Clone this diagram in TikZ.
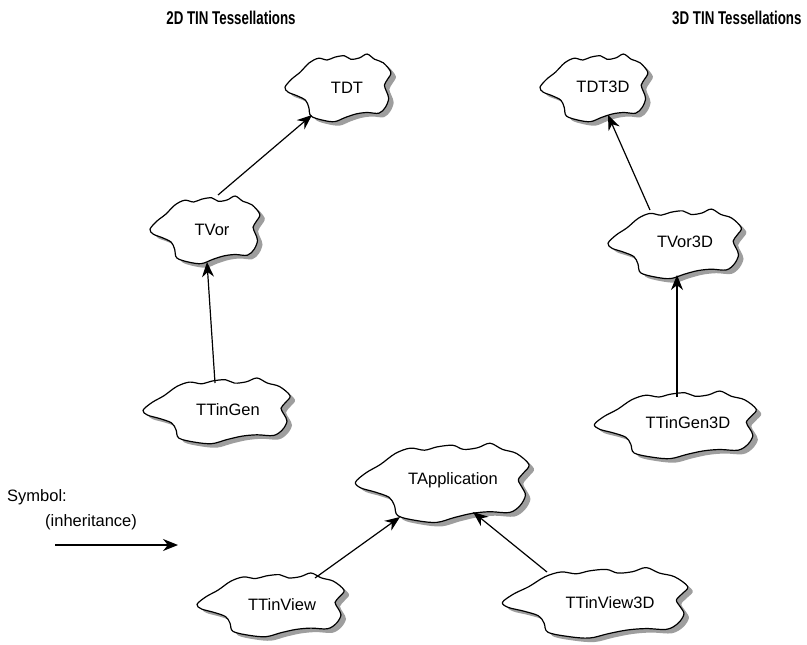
\documentclass[tikz,border=0pt]{standalone}
\usepackage{fontspec}
\setmainfont{Liberation Sans}
\usetikzlibrary{arrows.meta,calc,shapes.geometric}

\newcommand{\cloudpath}[1]{\path[#1] plot[smooth cycle,tension=0.55] coordinates {(-1.00,0.02) (-0.88,0.25) (-0.72,0.45) (-0.55,0.72) (-0.38,0.85) (-0.22,0.80) (-0.08,0.88) (0.10,0.92) (0.22,0.82) (0.38,0.86) (0.52,0.97) (0.66,0.82) (0.82,0.72) (0.96,0.45) (0.90,0.25) (0.84,0.08) (0.88,-0.10) (0.92,-0.30) (0.86,-0.55) (0.74,-0.72) (0.52,-0.70) (0.32,-0.74) (0.12,-0.84) (-0.08,-0.96) (-0.30,-0.92) (-0.52,-0.80) (-0.56,-0.55) (-0.62,-0.35) (-0.78,-0.22) (-0.94,-0.12)};}

\newcommand{\cloudat}[5]{%
  \begin{scope}[shift={(#2+5,#3+4)},xscale=#4/2,yscale=-#5/2]\cloudpath{cloudshadow}\end{scope}
  \begin{scope}[shift={(#2,#3)},xscale=#4/2,yscale=-#5/2]\cloudpath{cloudline}\end{scope}
  \node[cloudnode,minimum width=#4,minimum height=#5] (#1) at (#2,#3) {};
}

\tikzset{
  cloudshadow/.style={fill=black!38},
  cloudline/.style={fill=white,draw=black,line width=1.2pt,line join=round},
  cloudnode/.style={ellipse,inner sep=0pt},
  lbl/.style={font=\fontsize{16.5}{18}\selectfont,inner sep=0pt},
  title/.style={font=\fontsize{18.5}{20}\selectfont\bfseries,inner sep=0pt},
  inh/.style={line width=1.2pt,-{Stealth[length=15pt,width=12pt]}},
}

\begin{document}
\begin{tikzpicture}[x=1pt,y=-1pt]
\useasboundingbox (0,0) rectangle (807,645);

\node[title] (t2d) at (231,18) {\scalebox{0.72}[1]{2D TIN Tessellations}};
\node[title,anchor=west] (t3d) at (672,18) {\scalebox{0.72}[1]{3D TIN Tessellations}};

\cloudat{tdt}{339}{88}{108}{70}
\cloudat{tvor}{206}{230}{112}{70}
\cloudat{ttingen}{218}{411}{150}{68}
\cloudat{tdt3d}{595}{88}{110}{70}
\cloudat{tvor3d}{676}{244}{136}{72}
\cloudat{ttingen3d}{677}{425}{165}{70}
\cloudat{tapp}{444}{483}{177}{82}
\cloudat{ttinview}{272}{605}{150}{66}
\cloudat{ttinview3d}{597}{603}{189}{73}

\node[lbl] (tdt-t) at (347,88) {TDT};
\node[lbl] (tvor-t) at (212,230) {TVor};
\node[lbl] (ttingen-t) at (228,410) {TTinGen};
\node[lbl] (tdt3d-t) at (603,87) {TDT3D};
\node[lbl] (tvor3d-t) at (685,242) {TVor3D};
\node[lbl] (ttingen3d-t) at (688,423) {TTinGen3D};
\node[lbl] (tapp-t) at (453,480) {TApplication};
\node[lbl] (ttinview-t) at (282,605) {TTinView};
\node[lbl] (ttinview3d-t) at (610,603) {TTinView3D};

\draw[inh] ($(tvor)+(12,-35)$) -- ($(tdt)+(-27,27)$);
\draw[inh] ($(ttingen)+(-3,-28)$) -- ($(tvor)+(1,32)$);
\draw[inh] ($(tvor3d)+(-26,-34)$) -- ($(tdt3d)+(13,27)$);
\draw[inh] ($(ttingen3d)+(0,-28)$) -- ($(tvor3d)+(1,31)$);
\draw[inh] ($(ttinview)+(43,-27)$) -- ($(tapp)+(-44,34)$);
\draw[inh] ($(ttinview3d)+(-50,-31)$) -- ($(tapp)+(29,29)$);

\node[lbl,anchor=west] (sym) at (7,497) {Symbol:};
\node[lbl,anchor=west] (inhl) at (45,522) {(inheritance)};
\coordinate (s1) at (55,545);
\coordinate (s2) at (178,545);
\draw[inh] (s1) -- (s2);
\end{tikzpicture}
\end{document}
